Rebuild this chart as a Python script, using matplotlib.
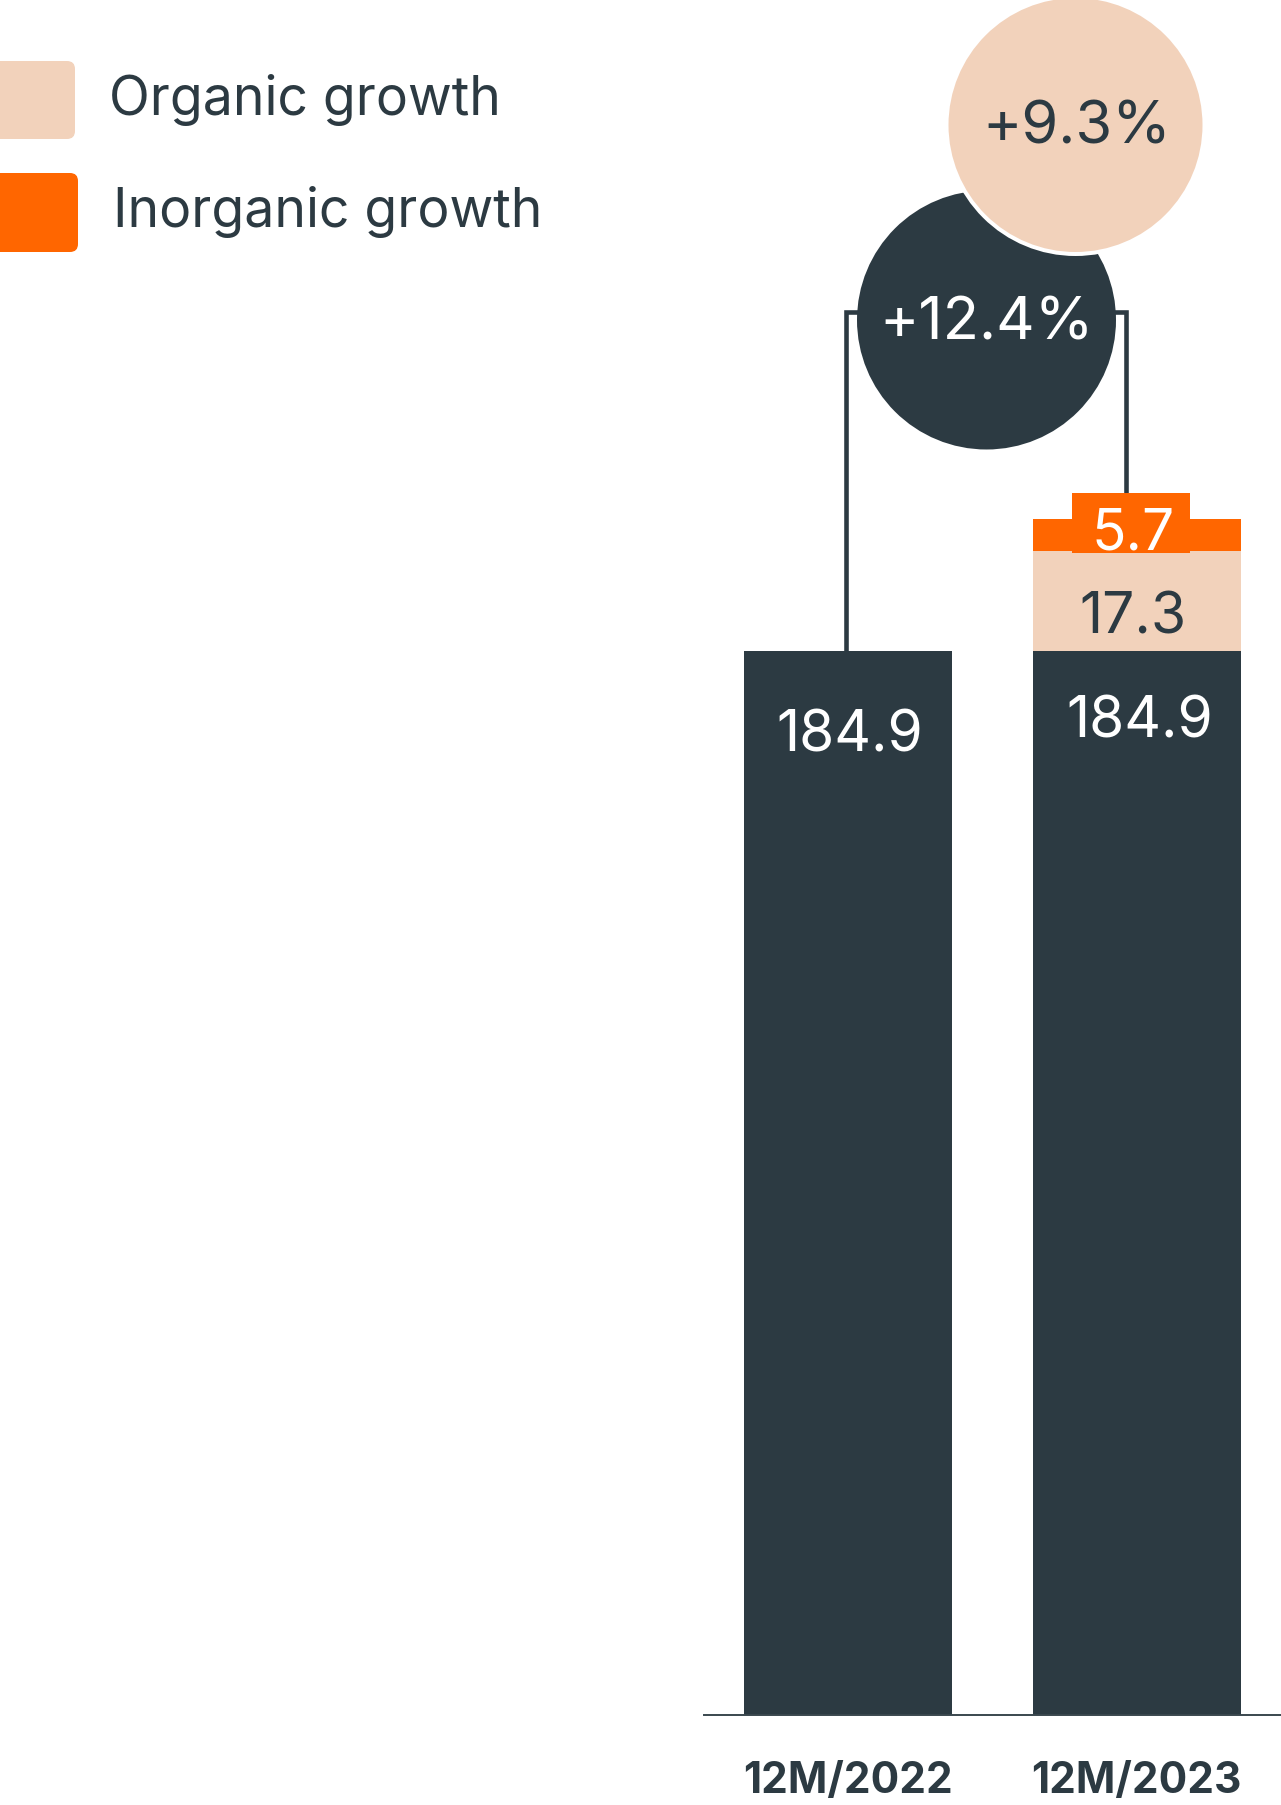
import matplotlib
matplotlib.use("Agg")
import matplotlib.pyplot as plt
from matplotlib.patches import Circle, FancyBboxPatch, Rectangle

# palette
DARK = "#2c3a42"
PEACH = "#f2d2bb"
ORANGE = "#ff6600"

# data
periods = ["12M/2022", "12M/2023"]
base = [184.9, 184.9]
organic = [0.0, 17.3]
inorganic = [0.0, 5.7]
total_growth = "+12.4%"
organic_growth = "+9.3%"
legend_labels = ["Organic growth", "Inorganic growth"]

W, H, DPI = 1281, 1806, 100
PT = 72 / DPI  # points per pixel

plt.rcParams["font.family"] = ["Inter", "DejaVu Sans"]

fig = plt.figure(figsize=(W / DPI, H / DPI), dpi=DPI)

# bar axes: baseline sits 90 px above the bottom edge
ax = fig.add_axes([704 / W, (H - 1716) / H, (W - 704) / W, 1716 / H])
ax.set_xlim(-0.5, 1.5)
ax.set_ylim(0, 298.2)
for side in ["left", "right", "top"]:
    ax.spines[side].set_visible(False)
ax.spines["bottom"].set_color("#3a474e")
ax.spines["bottom"].set_linewidth(1.4)
ax.set_xticks([])
ax.set_yticks([])
ax.patch.set_alpha(0)

xs = list(range(len(periods)))
bw = 0.72
mid = [b + o for b, o in zip(base, organic)]
top = [m + i for m, i in zip(mid, inorganic)]

ax.bar(xs, base, width=bw, color=DARK, linewidth=0)
ax.bar(xs, organic, bottom=base, width=bw, color=PEACH, linewidth=0)
ax.bar(xs, inorganic, bottom=mid, width=bw, color=ORANGE, linewidth=0)

# period labels under the axis
for xi, lab in zip(xs, periods):
    ax.annotate(lab, (xi, 0), xytext=(0, -77 * PT), textcoords="offset points",
                ha="center", va="baseline", fontsize=30.5, fontweight="bold",
                color=DARK, annotation_clip=False)

# base values inside the dark bars
base_drop = [100, 86]
base_shift = [1, 3]
for xi, v, d, s in zip(xs, base, base_drop, base_shift):
    ax.annotate(f"{v:.1f}", (xi, v), xytext=(s * PT, -d * PT), textcoords="offset points",
                ha="center", va="baseline", fontsize=41, color="white")

# organic growth value in the middle of the peach segment
ax.annotate(f"{organic[1]:.1f}", (xs[1], base[1] + organic[1] / 2),
            xytext=(-4 * PT, -31 * PT), textcoords="offset points",
            ha="center", va="baseline", fontsize=41, color=DARK)

# inorganic growth value on an orange tab sitting on the stack
tab_w = 0.41
tab_lo, tab_hi = top[1] - 6.0, top[1] + 4.4
ax.add_patch(Rectangle((xs[1] - 0.02 - tab_w / 2, tab_lo), tab_w, tab_hi - tab_lo,
                       facecolor=ORANGE, edgecolor="none", zorder=3))
ax.annotate(f"{inorganic[1]:.1f}", (xs[1], top[1]), xytext=(-4 * PT, -30 * PT),
            textcoords="offset points", ha="center", va="baseline",
            fontsize=41, color="white", zorder=4)

# bracket linking the two bars
br_y = 243.8
ax.plot([xs[0] - 0.008, xs[0] - 0.008, xs[1] - 0.037, xs[1] - 0.037],
        [base[0], br_y, br_y, tab_hi], color=DARK, lw=3.3,
        solid_joinstyle="miter", solid_capstyle="butt", clip_on=False, zorder=2)

# overlay in pixel units for the growth bubbles and the legend
deco = fig.add_axes([0, 0, 1, 1])
deco.set_xlim(0, W)
deco.set_ylim(H, 0)
deco.axis("off")
deco.patch.set_alpha(0)

deco.add_patch(Circle((986.5, 321), 129.5, facecolor=DARK, edgecolor="none"))
deco.text(987, 340, total_growth, ha="center", va="baseline", fontsize=43, color="white")
deco.add_patch(Circle((1075.5, 126), 129, facecolor=PEACH, edgecolor="white", lw=4 * PT))
deco.text(1077, 144, organic_growth, ha="center", va="baseline", fontsize=43, color=DARK)

swatches = [(PEACH, 62, 140, 75, 109, 115), (ORANGE, 174, 253, 78, 113, 227)]
for (col, y0, y1, x1, tx, ty), lab in zip(swatches, legend_labels):
    deco.add_patch(FancyBboxPatch((-20, y0 + 8), x1 - 8 + 20, y1 - y0 - 16,
                                  boxstyle="round,pad=8", facecolor=col, edgecolor="none"))
    deco.text(tx, ty, lab, ha="left", va="baseline", fontsize=38.5, color=DARK)

fig.savefig("out.png", dpi=DPI)
